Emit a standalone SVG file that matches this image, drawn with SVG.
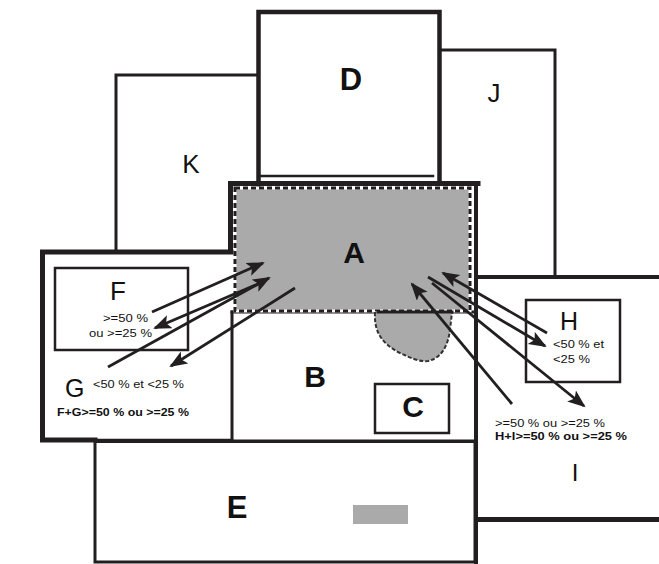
<svg xmlns="http://www.w3.org/2000/svg" width="659" height="564" viewBox="0 0 659 564">
<style>
.ln{fill:none;stroke:#231f20;stroke-linecap:square}
.t{font-family:"Liberation Sans",Arial,sans-serif;fill:#111}
.b{font-weight:bold}
.s{font-size:11.5px}
.ar{fill:none;stroke:#231f20;stroke-width:2.8;marker-end:url(#ah)}
</style>
<defs>
<marker id="ah" markerUnits="userSpaceOnUse" markerWidth="20" markerHeight="16" refX="16" refY="7" orient="auto">
<path d="M0,0 L18,7 L0,14 L4,7 Z" fill="#231f20"/>
</marker>
</defs>
<rect width="659" height="564" fill="#fff"/>

<g id="K">
<polyline class="ln" points="116,250 116,75 258,75" stroke-width="3"/>
<text class="t" x="191" y="173" font-size="26" text-anchor="middle">K</text>
</g>

<g id="D">
<polyline class="ln" points="258.5,185 258.5,12 439.5,12 439.5,183" stroke-width="4.5"/>
<line class="ln" x1="259" y1="176" x2="433" y2="176" stroke-width="2.5"/>
<text class="t b" x="351" y="90" font-size="31" text-anchor="middle">D</text>
</g>

<g id="J">
<polyline class="ln" points="441,50 555,50 555,277" stroke-width="3"/>
<text class="t" x="494" y="102" font-size="26" text-anchor="middle">J</text>
</g>

<g id="frame">
<polyline class="ln" points="230.5,250 230.5,183.5 478,183.5" stroke-width="5"/>
<line class="ln" x1="476" y1="183" x2="476" y2="564" stroke-width="4"/>
<line class="ln" x1="478" y1="277" x2="659" y2="277" stroke-width="4"/>
<line class="ln" x1="478" y1="519.5" x2="659" y2="519.5" stroke-width="5"/>
</g>

<g id="FG">
<polyline class="ln" points="232,252 42.5,252 42.5,440 95,440" stroke-width="5"/>
<line class="ln" x1="95" y1="440" x2="232" y2="440" stroke-width="2.5"/>
<text class="t" x="65" y="397" font-size="25">G</text>
<text class="t s" x="93" y="388" textLength="91" lengthAdjust="spacingAndGlyphs">&lt;50 % et &lt;25 %</text>
<text class="t s b" x="57" y="416" textLength="132" lengthAdjust="spacingAndGlyphs">F+G&gt;=50 % ou &gt;=25 %</text>
</g>

<g id="F">
<rect class="ln" x="55" y="268" width="133" height="82" stroke-width="2.5"/>
<text class="t" x="118" y="300" font-size="26" text-anchor="middle">F</text>
<text class="t s" x="103" y="322" textLength="45" lengthAdjust="spacingAndGlyphs">&gt;=50 %</text>
<text class="t s" x="89" y="337" textLength="63" lengthAdjust="spacingAndGlyphs">ou &gt;=25 %</text>
</g>

<g id="B">
<polyline class="ln" points="232,312 232,441 476,441" stroke-width="3"/>
<line class="ln" x1="232" y1="312" x2="476" y2="312" stroke-width="3"/>
<text class="t b" x="315" y="387" font-size="30" text-anchor="middle">B</text>
</g>

<g id="A">
<rect x="234" y="187" width="237" height="125" fill="#aaaaaa"/>
<rect x="235" y="188" width="235" height="123" fill="none" stroke="#fff" stroke-width="3"/>
<rect x="235" y="188" width="235" height="123" fill="none" stroke="#231f20" stroke-width="3" stroke-dasharray="5,3"/>
<path d="M375,311 C374,330 380,342 398,352 C410,358 420,362 428,361 C442,358 448,345 450,330 L452,311 Z" fill="#aaaaaa"/>
<path d="M375,312 C374,330 380,342 398,352 C410,358 420,362 428,361 C442,358 448,345 450,330 L452,312" fill="none" stroke="#333" stroke-width="2" stroke-dasharray="4,2"/>
<line class="ln" x1="378" y1="312" x2="452" y2="312" stroke-width="3"/>
<text class="t b" x="354" y="263" font-size="30" text-anchor="middle">A</text>
</g>

<g id="C">
<rect class="ln" x="375" y="384" width="74" height="49" stroke-width="2.5"/>
<text class="t b" x="413" y="417" font-size="30" text-anchor="middle">C</text>
</g>

<g id="E">
<rect class="ln" x="95" y="441.5" width="380" height="120.5" stroke-width="3"/>
<rect x="353" y="505" width="55" height="19" fill="#aaaaaa"/>
<text class="t b" x="237" y="518" font-size="31" text-anchor="middle">E</text>
</g>

<g id="H">
<rect class="ln" x="526" y="300" width="94" height="82" stroke-width="2.5"/>
<text class="t" x="569" y="330" font-size="25" text-anchor="middle">H</text>
<text class="t s" x="553" y="348" textLength="51" lengthAdjust="spacingAndGlyphs">&lt;50 % et</text>
<text class="t s" x="553" y="363" textLength="37" lengthAdjust="spacingAndGlyphs">&lt;25 %</text>
</g>

<g id="I">
<text class="t" x="575" y="481" font-size="24" text-anchor="middle">I</text>
<text class="t s" x="495" y="427" textLength="110" lengthAdjust="spacingAndGlyphs">&gt;=50 % ou &gt;=25 %</text>
<text class="t s b" x="495" y="440" textLength="132" lengthAdjust="spacingAndGlyphs">H+I&gt;=50 % ou &gt;=25 %</text>
</g>

<g id="connectors">
<line class="ar" x1="152" y1="312" x2="263" y2="263"/>
<line class="ar" x1="265" y1="281" x2="155" y2="328"/>
<line class="ar" x1="108" y1="367" x2="269" y2="278"/>
<line class="ar" x1="295" y1="288" x2="171" y2="366"/>
<line class="ar" x1="547" y1="333" x2="443" y2="273"/>
<line class="ar" x1="428" y1="277" x2="545" y2="346"/>
<line class="ar" x1="432" y1="283" x2="584" y2="406"/>
<line class="ar" x1="512" y1="404" x2="412" y2="284"/>
</g>
</svg>
